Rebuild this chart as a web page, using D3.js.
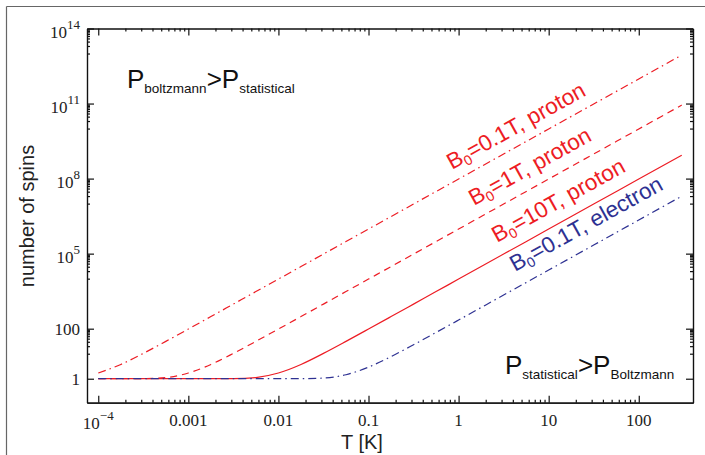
<!DOCTYPE html>
<html lang="en">
<head>
<meta charset="UTF-8">
<title>Number of spins vs temperature</title>
<script src="https://d3js.org/d3.v7.min.js"></script>
<style>
  body { margin: 0; background: #fff; }
  svg { display: block; background: #fff; }
  .axis path, .axis line { stroke: #111; stroke-width: 1.2px; }
</style>
</head>
<body>
<svg id="chart" width="705" height="455"></svg>
<script>
// temperature samples [K]
const temps = [1e-4, 1.78e-4, 3.16e-4, 5.62e-4, 1e-3, 1.78e-3, 3.16e-3, 5.62e-3,
               0.01, 0.0178, 0.0316, 0.0562, 0.1, 0.178, 0.316, 0.562,
               1, 3.16, 10, 31.6, 100, 300];

// number of spins
const protonB01 = [1.69, 3.72, 10.3, 31.1, 96.8, 305, 961, 3040,
                   9610, 3.04e4, 9.61e4, 3.04e5, 9.61e5, 3.04e6, 9.61e6, 3.04e7,
                   9.61e7, 9.61e8, 9.61e9, 9.61e10, 9.61e11, 8.65e12];
const protonB1 = [1, 1, 1.006, 1.112, 1.69, 3.72, 10.3, 31.1,
                  96.8, 305, 961, 3040, 9610, 3.04e4, 9.61e4, 3.04e5,
                  9.61e5, 9.61e6, 9.61e7, 9.61e8, 9.61e9, 8.65e10];
const protonB10 = [1, 1, 1, 1, 1, 1, 1.006, 1.112,
                   1.69, 3.72, 10.3, 31.1, 96.8, 305, 961, 3040,
                   9610, 9.61e4, 9.61e5, 9.61e6, 9.61e7, 8.65e8];
const electronB01 = [1, 1, 1, 1, 1, 1, 1, 1,
                     1, 1.002, 1.059, 1.444, 2.91, 7.68, 22.8, 70.7,
                     222, 2215, 2.21e4, 2.21e5, 2.21e6, 1.99e7];

const xTicks = [1e-4, 1e-3, 0.01, 0.1, 1, 10, 100];
const xTickLabels = [["10", "\u22124"], ["0.001"], ["0.01"], ["0.1"], ["1"], ["10"], ["100"]];
const yTicks = [1, 100, 1e5, 1e8, 1e11, 1e14];
const yTickLabels = [["1"], ["100"], ["10", "5"], ["10", "8"], ["10", "11"], ["10", "14"]];

const red = "#ed1c24", blue = "#2e3192";
const serif = "'Liberation Serif', 'DejaVu Serif', 'Times New Roman', serif";
const sans = "'Liberation Sans', Arial, sans-serif";

const svg = d3.select("#chart");
const plotLeft = 87, plotRight = 693, plotTop = 28.5, plotBottom = 402.7;

const x = d3.scaleLog().domain([7.5e-5, 400]).range([plotLeft, plotRight]);
const y = d3.scaleLog().domain([0.11, 1e14]).range([plotBottom, plotTop]);

// outer frame (top and left edges only)
svg.append("line").attr("x1", 6.5).attr("x2", 705).attr("y1", 6.5).attr("y2", 6.5)
  .attr("stroke", "#666").attr("stroke-width", 1.2);
svg.append("line").attr("x1", 6.5).attr("x2", 6.5).attr("y1", 6.5).attr("y2", 455)
  .attr("stroke", "#666").attr("stroke-width", 1.2);

// minor ticks
const xMinor = [];
for (let n = -4; n <= 1; n++) for (let k = 2; k <= 9; k++) xMinor.push(k * Math.pow(10, n));
const yMinor = [];
[2, 5, 8, 11, 14].forEach(m => { for (let k = 1; k <= 9; k++) yMinor.push(k * Math.pow(10, m - 1)); });

function addAxis(axisFn, scale, transform, major, minor) {
  svg.append("g").attr("class", "axis").attr("transform", transform)
    .call(axisFn(scale).tickValues(minor).tickSize(-3).tickSizeOuter(0).tickFormat(""));
  svg.append("g").attr("class", "axis").attr("transform", transform)
    .call(axisFn(scale).tickValues(major).tickSize(-7).tickSizeOuter(0).tickFormat(""));
}
addAxis(d3.axisBottom, x, `translate(0,${plotBottom})`, xTicks, xMinor);
addAxis(d3.axisTop, x, `translate(0,${plotTop})`, xTicks, xMinor);
addAxis(d3.axisLeft, y, `translate(${plotLeft},0)`, yTicks, yMinor);
addAxis(d3.axisRight, y, `translate(${plotRight},0)`, yTicks, yMinor);

// tick labels
xTicks.forEach((v, i) => {
  const lab = xTickLabels[i];
  const t = svg.append("text").attr("font-family", serif).attr("font-size", 17).attr("fill", "#222")
    .attr("x", x(v)).attr("y", lab.length > 1 ? 429 : 426).attr("text-anchor", "middle").text(lab[0]);
  if (lab.length > 1) t.append("tspan").attr("dy", -9).attr("font-size", 13).text(lab[1]);
});
yTicks.forEach((v, i) => {
  const lab = yTickLabels[i];
  const t = svg.append("text").attr("font-family", serif).attr("font-size", 17).attr("fill", "#222")
    .attr("x", 80).attr("y", y(v) + (lab.length > 1 ? 9 : 6)).attr("text-anchor", "end").text(lab[0]);
  if (lab.length > 1) t.append("tspan").attr("dy", -9).attr("font-size", 13).text(lab[1]);
});

// axis titles
svg.append("text").attr("font-family", sans).attr("font-size", 20).attr("fill", "#222")
  .attr("x", 362).attr("y", 449).attr("text-anchor", "middle").text("T [K]");
svg.append("text").attr("font-family", sans).attr("font-size", 20).attr("fill", "#222")
  .attr("transform", "translate(34,216) rotate(-90)").attr("text-anchor", "middle").text("number of spins");

// curves
const line = d3.line().x(d => x(d[0])).y(d => y(d[1])).curve(d3.curveMonotoneX);
const series = [
  { values: protonB01, color: red, dash: "8,4,1.5,4" },
  { values: protonB1, color: red, dash: "7,5" },
  { values: protonB10, color: red, dash: null },
  { values: electronB01, color: blue, dash: "8,4,1.5,4" }
];
series.forEach(s => {
  svg.append("path")
    .datum(temps.map((t, i) => [t, s.values[i]]))
    .attr("d", line)
    .attr("fill", "none")
    .attr("stroke", s.color)
    .attr("stroke-width", 1.2)
    .attr("stroke-dasharray", s.dash);
});

// curve labels, rotated along the T^2 slope
const angle = -Math.atan((y(1) - y(100)) / (x(10) - x(1))) * 180 / Math.PI;
const curveLabels = [
  { text: "=0.1T, proton", color: red, pos: [452, 170] },
  { text: "=1T, proton", color: red, pos: [474, 206] },
  { text: "=10T, proton", color: red, pos: [497, 243] },
  { text: "=0.1T, electron", color: blue, pos: [515, 272] }
];
curveLabels.forEach(l => {
  const t = svg.append("text").attr("font-family", sans).attr("font-size", 22.5).attr("fill", l.color)
    .attr("transform", `translate(${l.pos[0]},${l.pos[1]}) rotate(${angle})`);
  t.append("tspan").text("B");
  t.append("tspan").attr("font-size", 14).attr("dy", 4).text("0");
  t.append("tspan").attr("dy", -4).text(l.text);
});

// region annotations
function regionLabel(px, py, a, b) {
  const t = svg.append("text").attr("font-family", sans).attr("fill", "#111").attr("font-size", 26)
    .attr("x", px).attr("y", py);
  t.append("tspan").text("P");
  t.append("tspan").attr("font-size", 13.5).attr("dy", 5).text(a);
  t.append("tspan").attr("dy", -5).text(">P");
  t.append("tspan").attr("font-size", 13.5).attr("dy", 5).text(b);
}
regionLabel(127, 88, "boltzmann", "statistical");
regionLabel(505, 374, "statistical", "Boltzmann");
</script>
</body>
</html>
